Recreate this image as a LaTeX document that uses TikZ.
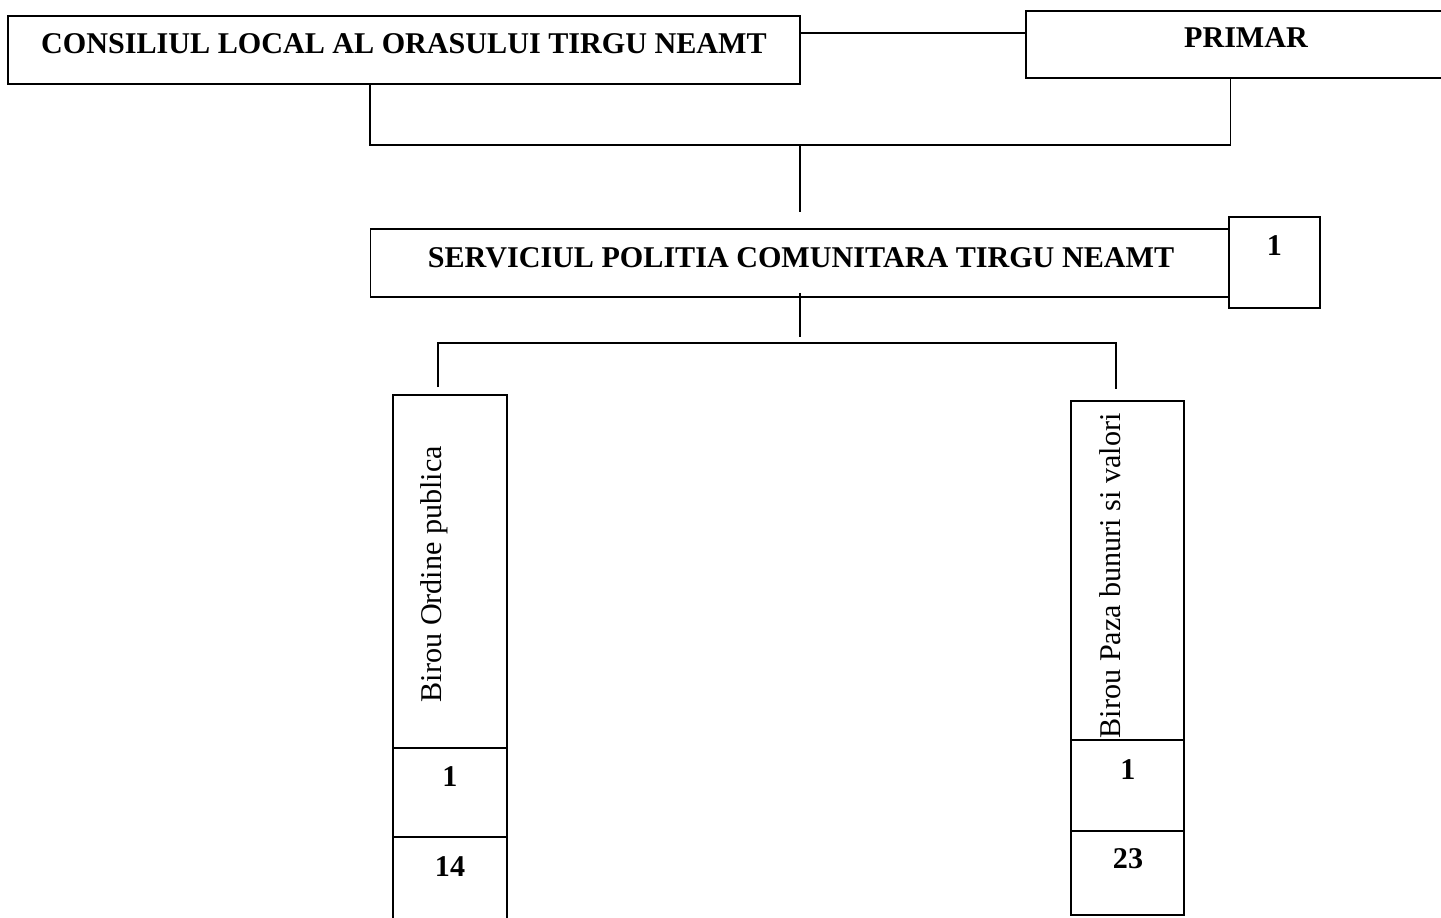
\documentclass[tikz,border=0pt]{standalone}
\usepackage{fontspec}
\setmainfont{Liberation Serif}
\newlength{\unitpx}
\setlength{\unitpx}{0.3984pt}

\begin{document}
\begin{tikzpicture}[x=\unitpx, y=-\unitpx, line width=0.7pt,
    box/.style={draw, rectangle, inner sep=0pt},
    bold/.style={inner sep=0pt, anchor=base, font=\bfseries\fontsize{12}{14}\selectfont},
    vert/.style={inner sep=0pt, rotate=90, anchor=base west, font=\fontsize{12}{14}\selectfont}]
          \useasboundingbox (0,0) rectangle (1441,918);
          \node[box, minimum width=792*\unitpx, minimum height=68*\unitpx] (CL) at (404,50) {};
          \node[box, minimum width=440*\unitpx, minimum height=67*\unitpx] (PR) at (1246,44.5) {};
          \node[bold] (CLt) at (404,54) {CONSILIUL LOCAL AL ORASULUI TIRGU NEAMT};
          \node[bold] (PRt) at (1246,48) {PRIMAR};
          \node[box, minimum width=859*\unitpx, minimum height=68*\unitpx] (SP) at (800,263) {};
          \node[box, minimum width=91*\unitpx, minimum height=91*\unitpx] (SPn) at (1274.5,262.5) {};
          \node[bold] (SPt) at (801,267) {SERVICIUL POLITIA COMUNITARA TIRGU NEAMT};
          \node[bold] (SPnt) at (1274.5,256) {1};
          \node[box, minimum width=114*\unitpx, minimum height=353*\unitpx] (BO) at (450,571.5) {};
          \node[box, minimum width=114*\unitpx, minimum height=89*\unitpx] (BO1) at (450,792.5) {};
          \node[box, minimum width=114*\unitpx, minimum height=93*\unitpx] (BO2) at (450,883.5) {};
          \node[vert] (BOt) at (441,703) {Birou Ordine publica};
          \node[bold] (BO1t) at (450,786) {1};
          \node[bold] (BO2t) at (450,876) {14};
          \node[box, minimum width=113*\unitpx, minimum height=339*\unitpx] (PZ) at (1127.5,570.5) {};
          \node[box, minimum width=113*\unitpx, minimum height=91*\unitpx] (PZ1) at (1127.5,785.5) {};
          \node[box, minimum width=113*\unitpx, minimum height=84*\unitpx] (PZ2) at (1127.5,873) {};
          \node[vert] (PZt) at (1120,739) {Birou Paza bunuri si valori};
          \node[bold] (PZ1t) at (1128,779) {1};
          \node[bold] (PZ2t) at (1128,868) {23};
          \coordinate (J1) at (913,33);
          \coordinate (J2) at (800,145);
          \coordinate (J3) at (800,343);
          \coordinate (J3l) at (438,343);
          \coordinate (J3r) at (1116,343);
          \draw (CL.east |- J1) -- (PR.west |- J1);
          \draw (SP.west |- CL.south) |- (J2) -| (SP.east |- PR.south);
          \draw [shorten >=16*\unitpx] (J2) -- (SP.north);
          \draw [shorten <=-5*\unitpx, shorten >=6*\unitpx] (SP.south) -- (J3);
          \draw [shorten <=7*\unitpx, shorten >=11*\unitpx] (J3l |- BO.north) |- (J3r) -- (J3r |- PZ.north);
\end{tikzpicture}
\end{document}
